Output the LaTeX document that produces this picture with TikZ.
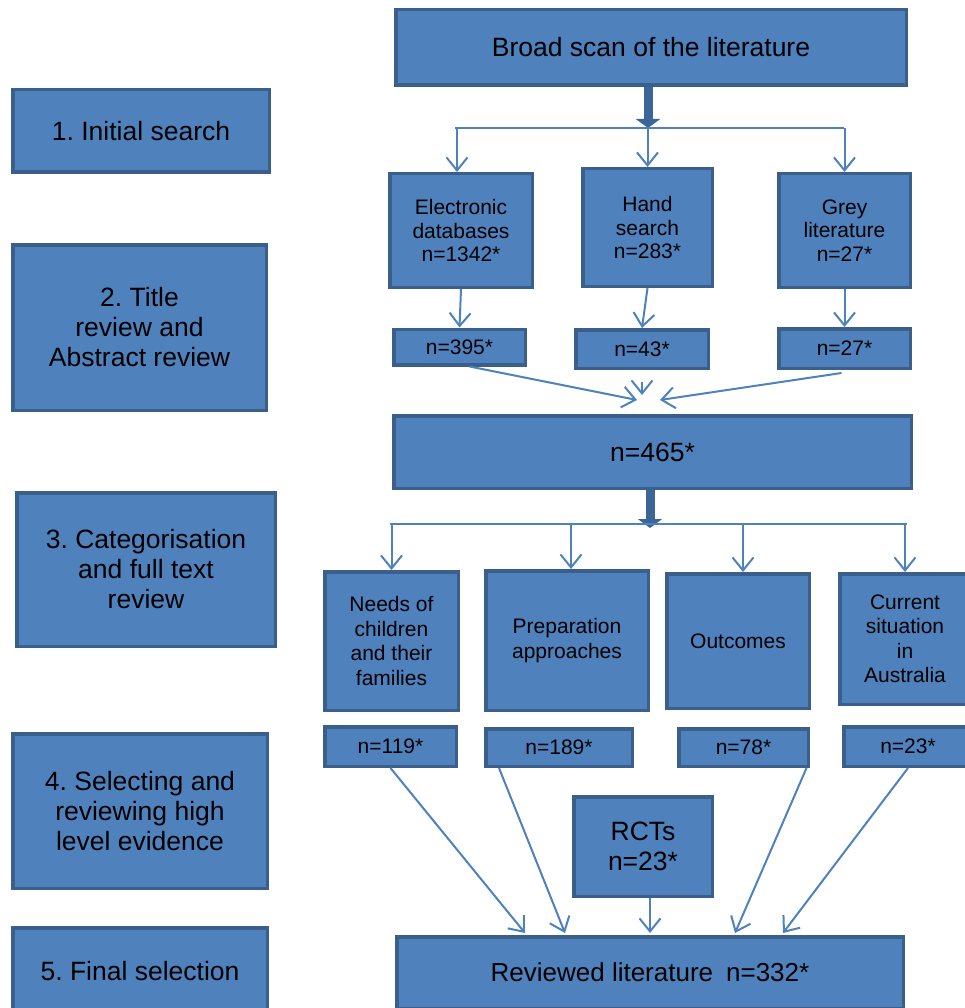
\documentclass[tikz,border=0pt]{standalone}
\usepackage{fontspec}
\setmainfont{Liberation Sans}
\usetikzlibrary{arrows.meta}
\frenchspacing

\definecolor{boxfill}{HTML}{4F81BD}
\definecolor{boxedge}{HTML}{3A5F8B}
\definecolor{linkblue}{HTML}{4F81BD}
\definecolor{thickblue}{HTML}{3D6698}

\tikzset{
  box/.style={draw=boxedge, line width=3.5pt, fill=boxfill, inner sep=0pt,
    align=center, text=black, font=\fontsize{21}{23.5}\selectfont},
  bigtext/.style={font=\fontsize{26.5}{30}\selectfont},
  cattext/.style={font=\fontsize{21}{24.5}\selectfont},
  link/.style={draw=linkblue, line width=2pt, -{Straight Barb[length=13pt,width=21pt]}},
  busline/.style={draw=linkblue, line width=2pt},
  thickarrow/.style={draw=thickblue, line width=9pt, -{Triangle[length=9pt,width=24pt]}},
}

\begin{document}
\begin{tikzpicture}[x=1pt,y=-1pt]
\useasboundingbox (0,0) rectangle (965,1008);
\clip (0,0) rectangle (965,1008);

% stage labels
\node[box,bigtext,minimum width=256.5pt,minimum height=82.5pt] (s1) at (141,131) {1. Initial search};
\node[box,bigtext,minimum width=253.5pt,minimum height=165.5pt] (s2) at (139.5,327.5) {2. Title\\review and\\Abstract review};
\node[box,bigtext,minimum width=258.5pt,minimum height=153.5pt] (s3) at (146,569.5) {3. Categorisation\\and full text\\review};
\node[box,bigtext,minimum width=254.5pt,minimum height=154.5pt] (s4) at (140,811) {4. Selecting and\\reviewing high\\level evidence};
\node[box,bigtext,minimum width=254.5pt,minimum height=86pt] (s5) at (140,971) {5. Final selection};

% search flow
\node[box,bigtext,minimum width=510.5pt,minimum height=75.5pt] (broad) at (651,47.5) {Broad scan of the literature};
\node[box,minimum width=142.5pt,minimum height=113.5pt] (elec) at (461,230.5) {Electronic\\databases\\n=1342*};
\node[box,minimum width=129.5pt,minimum height=117.5pt] (hand) at (647.5,227.5) {Hand\\search\\n=283*};
\node[box,minimum width=131.5pt,minimum height=113.5pt] (grey) at (844.5,230.5) {Grey\\literature\\n=27*};
\node[box,minimum width=131.5pt,minimum height=35.5pt] (n395) at (459.5,347) {n=395*};
\node[box,minimum width=132.5pt,minimum height=38.5pt] (n43) at (642,349) {n=43*};
\node[box,minimum width=131.5pt,minimum height=39.5pt] (n27) at (844.5,348.5) {n=27*};
\node[box,bigtext,minimum width=517.5pt,minimum height=72.5pt] (n465) at (652.5,452) {n=465*};

% categories
\node[box,cattext,minimum width=133.5pt,minimum height=138.5pt] (needs) at (391.5,641) {Needs of\\children\\and their\\families};
\node[box,cattext,minimum width=162.5pt,minimum height=139.5pt] (prep) at (567,640.5) {Preparation\\approaches};
\node[box,cattext,minimum width=142.5pt,minimum height=134.5pt] (outc) at (738,641) {Outcomes};
\node[box,cattext,minimum width=130.5pt,minimum height=130.5pt] (curr) at (905,639) {Current\\situation\\in\\Australia};
\node[box,minimum width=131.5pt,minimum height=39.5pt] (n119) at (390.5,746.5) {n=119*};
\node[box,minimum width=146.5pt,minimum height=37.5pt] (n189) at (559,747.5) {n=189*};
\node[box,minimum width=129.5pt,minimum height=37.5pt] (n78) at (743.5,747.5) {n=78*};
\node[box,minimum width=128.5pt,minimum height=39.5pt] (n23) at (908,746.5) {n=23*};
\node[box,bigtext,minimum width=138.5pt,minimum height=99.5pt] (rct) at (643,846.5) {RCTs\\n=23*};
\node[box,font=\fontsize{26}{30}\selectfont,minimum width=506.5pt,minimum height=71.5pt] (rev) at (650,972.5) {Reviewed literature\enspace n=332*};

% first split
\coordinate (busAl) at (455,128);
\coordinate (busAr) at (844,128);
\draw[thickarrow] ([xshift=-3pt]broad.south) -- ([xshift=-3pt]broad.south |- busAl);
\draw[busline] (busAl) -- (busAr);
\draw[link] ([xshift=-4pt]elec.north |- busAl) -- ([xshift=-4pt]elec.north);
\draw[link] (hand.north |- busAl) -- (hand.north);
\draw[link] (grey.north |- busAl) -- (grey.north);
\draw[link] (elec.south) -- (n395.north);
\draw[link] (hand.south) -- (n43.north);
\draw[link] (grey.south) -- (n27.north);

% merge into n=465
\coordinate (joinL) at (637,400);
\coordinate (joinR) at (660,400);
\draw[link] ([xshift=10pt]n395.south) -- (joinL);
\draw[link] ([xshift=-3pt,yshift=-3pt]n27.south) -- (joinR);
\draw[link] ([yshift=-12pt]n43.south) -- ([yshift=-25pt]n43.south);

% second split
\coordinate (busBl) at (390,524);
\coordinate (busBr) at (907,524);
\coordinate (tipB) at (650,528);
\draw[thickarrow] ([xshift=-2.5pt]n465.south) -- ([xshift=-2.5pt]n465.south |- tipB);
\draw[busline] (busBl) -- (busBr);
\draw[link] (needs.north |- busBl) -- (needs.north);
\draw[link] ([xshift=4pt]prep.north |- busBl) -- ([xshift=4pt]prep.north);
\draw[link] ([xshift=5pt]outc.north |- busBl) -- ([xshift=5pt]outc.north);
\draw[link] (curr.north |- busBl) -- (curr.north);

% into the reviewed literature
\coordinate (in1) at (525,933);
\coordinate (in2) at (565,933);
\coordinate (in4) at (735,933);
\coordinate (in5) at (783,933);
\draw[link] (n119.south) -- (in1);
\draw[link] ([xshift=-60pt]n189.south) -- (in2);
\draw[link] ([xshift=7pt]rct.south) -- ([xshift=7pt]rct.south |- in1);
\draw[link] ([xshift=63pt]n78.south) -- (in4);
\draw[link] (n23.south) -- (in5);
\end{tikzpicture}
\end{document}
